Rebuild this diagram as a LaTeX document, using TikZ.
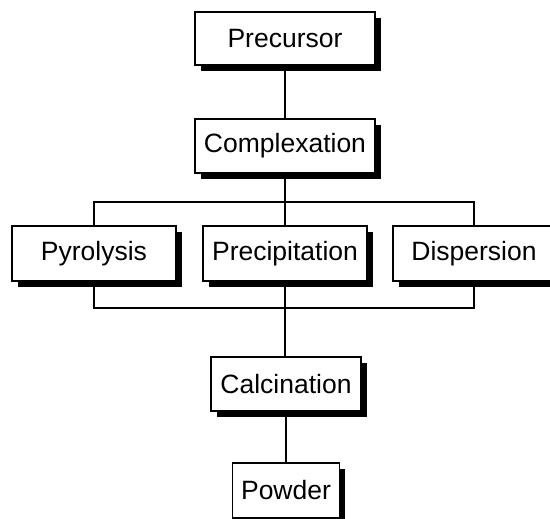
\documentclass[tikz,border=0pt]{standalone}
\usepackage{fontspec}
\setmainfont{Liberation Sans}
\usetikzlibrary{shadows}
\begin{document}
\begin{tikzpicture}[x=1pt,y=-1pt,
  box/.style={draw=black, line width=1.3pt, fill=white, rectangle, inner sep=0pt,
    font=\fontsize{26.5}{30}\selectfont,
    drop shadow={shadow xshift=5.5pt, shadow yshift=-6pt, fill=black, opacity=1}},
  conn/.style={line width=1.3pt}]
\useasboundingbox (0,0) rectangle (550,519);
\clip (0,0) rectangle (550,519);
\node[box, minimum width=180pt, minimum height=53pt] (prec) at (285,38.5) {Precursor};
\node[box, minimum width=180pt, minimum height=54pt] (comp) at (285,146) {Complexation};
\node[box, minimum width=164pt, minimum height=55pt] (pyro) at (94,253.5) {Pyrolysis};
\node[box, minimum width=164pt, minimum height=55pt] (prc) at (285,253.5) {Precipitation};
\node[box, minimum width=162pt, minimum height=55pt] (disp) at (474,253.5) {Dispersion};
\node[box, minimum width=150pt, minimum height=54pt] (calc) at (286,384) {Calcination};
\node[box, minimum width=107pt, minimum height=55pt] (pow) at (286,490.5) {Powder};
\coordinate (split) at (285,202);
\coordinate (join) at (285,308);
\draw[conn] (prec.south) -- (comp.north);
\draw[conn] (comp.south) -- (split);
\draw[conn] (pyro.north) |- (split) -| (disp.north);
\draw[conn] (split) -- (prc.north);
\draw[conn] (pyro.south) |- (join) -| (disp.south);
\draw[conn] (prc.south) -- (join) -- (join |- calc.north);
\draw[conn] (calc.south) -- (pow.north);
\end{tikzpicture}
\end{document}
